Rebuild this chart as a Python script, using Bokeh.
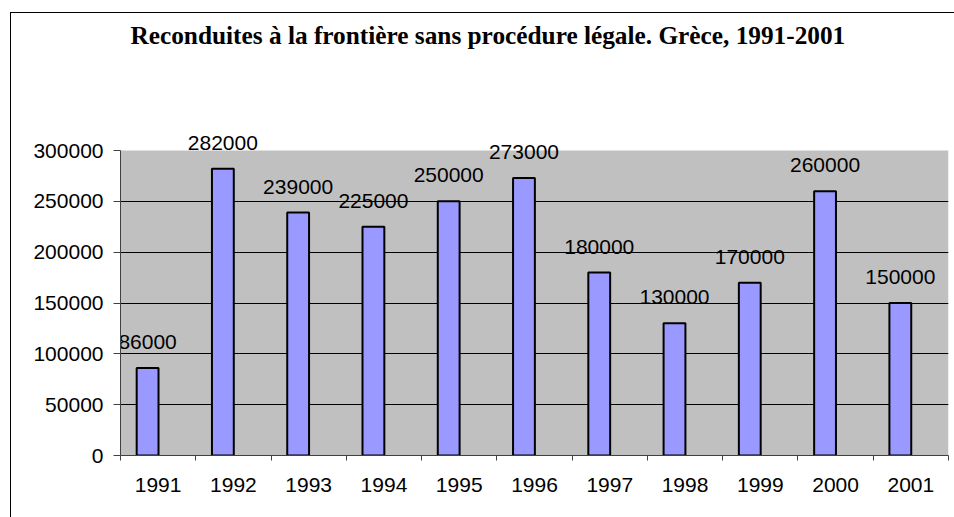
from bokeh.plotting import figure
from bokeh.models import ColumnDataSource, Range1d, FixedTicker, NumeralTickFormatter, BoxAnnotation
from bokeh.core.properties import value
from bokeh.embed import file_html
from bokeh.resources import INLINE

years = ["1991", "1992", "1993", "1994", "1995", "1996", "1997", "1998", "1999", "2000", "2001"]
values = [86000, 282000, 239000, 225000, 250000, 273000, 180000, 130000, 170000, 260000, 150000]
y_ticks = [0, 50000, 100000, 150000, 200000, 250000, 300000]
title_text = "Reconduites à la frontière sans procédure légale. Grèce, 1991-2001"

n = len(years)
y_max = y_ticks[-1]
centers = [i + 0.5 for i in range(n)]
bar_x = [c - 0.14 for c in centers]
src = ColumnDataSource(dict(x=bar_x, top=values, label=[str(v) for v in values]))

# frame extends to the top of the page so that the labels above the value area are not clipped;
# the grey value area (0 .. 300000) is 305 px high and starts 150 px below the top
y_top = y_max * 455 / 305

p = figure(width=954, height=517, output_backend="svg", toolbar_location=None,
           x_range=Range1d(0, n), y_range=Range1d(0, y_top),
           min_border_left=120, min_border_right=6, min_border_top=0, min_border_bottom=62)
p.styles = {"box-shadow": "inset 10px 12px 0 0 white, inset 11px 13px 0 0 black"}
p.border_fill_color = None
p.background_fill_color = None
p.outline_line_color = None

p.add_layout(BoxAnnotation(bottom=0, top=y_max, left=0, right=n, fill_color="#C0C0C0",
                           fill_alpha=1, line_color=None, level="image"))

p.vbar(x="x", top="top", bottom=0, width=0.29, source=src,
       fill_color="#9999FF", line_color="black", line_width=2)

p.text(x="x", y="top", text="label", source=src, text_align="center",
       text_baseline="alphabetic", y_offset=-26, text_font=value("Liberation Sans"),
       text_font_size=value("21px"), text_color="black")

# chart title
p.text(x=[0], y=[y_top], text=[title_text], x_offset=10, y_offset=34,
       text_align="left", text_baseline="alphabetic",
       text_font=value("Liberation Serif"), text_font_size=value("25.3px"),
       text_font_style="bold", text_color="black")

# x axis
p.xaxis.ticker = FixedTicker(ticks=centers, minor_ticks=list(range(n + 1)))
p.xaxis.major_label_overrides = {c: y for c, y in zip(centers, years)}
p.xaxis.major_tick_out = 0
p.xaxis.major_tick_in = 0
p.xaxis.minor_tick_out = 5
p.xaxis.minor_tick_in = 0
p.xaxis.minor_tick_line_color = "#404040"
p.xaxis.axis_line_color = "#404040"
p.xaxis.major_label_standoff = 17
p.xaxis.major_label_text_font = "Liberation Sans"
p.xaxis.major_label_text_font_size = "21px"
p.xaxis.major_label_text_color = "black"

# y axis
p.yaxis.ticker = FixedTicker(ticks=y_ticks)
p.yaxis.bounds = (0, y_max)
p.yaxis.formatter = NumeralTickFormatter(format="0")
p.yaxis.major_tick_out = 7
p.yaxis.major_tick_in = 0
p.yaxis.minor_tick_line_color = None
p.yaxis.major_tick_line_color = "#404040"
p.yaxis.axis_line_color = "#404040"
p.yaxis.major_label_standoff = 10
p.yaxis.major_label_text_font = "Liberation Sans"
p.yaxis.major_label_text_font_size = "21px"
p.yaxis.major_label_text_color = "black"

p.xgrid.grid_line_color = None
p.ygrid.ticker = FixedTicker(ticks=y_ticks[1:-1])
p.ygrid.grid_line_color = "black"
p.ygrid.grid_line_width = 1

open("out.html", "w").write(file_html(p, INLINE))
